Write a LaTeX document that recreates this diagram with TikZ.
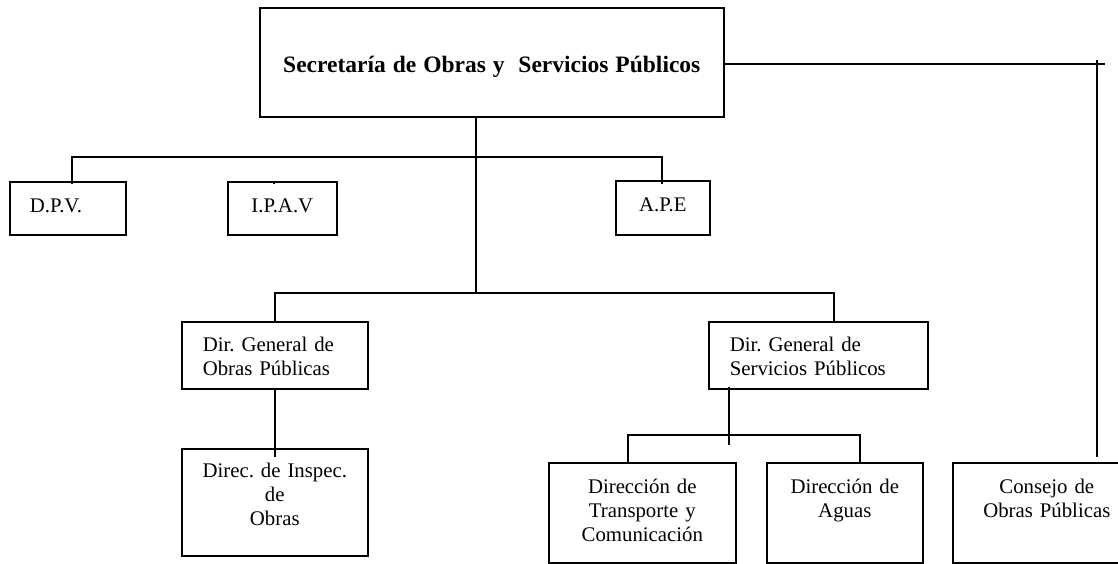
\documentclass[tikz,border=0pt]{standalone}
\usepackage{fontspec}
\setmainfont{Liberation Serif}
\usetikzlibrary{calc}
\frenchspacing
\begin{document}
\begin{tikzpicture}[x=1pt,y=-1pt,
  bx/.style={draw, line width=1.6pt, inner sep=0pt, anchor=north west,
    font=\frenchspacing\fontsize{20.8}{24}\selectfont},
  ln/.style={line width=1.6pt}]
\useasboundingbox (0,0) rectangle (1118,563);
\clip (0,0) rectangle (1118,563);

% boxes
\node[bx, text width=464pt, align=center, text height=65pt, text depth=44pt]
  (main) at (259,7) {\bfseries\fontsize{23.5}{28}\selectfont Secretaría de Obras y\ \ Servicios Públicos};
\node[bx, inner xsep=20pt, text width=76pt, align=left, text height=31pt, text depth=22pt]
  (dpv) at (9,181) {D.P.V.};
\node[bx, text width=109pt, align=center, text height=31pt, text depth=22pt]
  (ipav) at (227,181) {I.P.A.V};
\node[bx, text width=94pt, align=center, text height=31pt, text depth=23pt]
  (ape) at (615,180) {A.P.E};
\node[bx, inner xsep=21pt, text width=144pt, align=left, text height=30pt, text depth=37pt]
  (dgo) at (181,321) {Dir. General de\\Obras Públicas};
\node[bx, inner xsep=21pt, text width=177pt, align=left, text height=30pt, text depth=37pt]
  (dgs) at (708,321) {Dir. General de\\Servicios Públicos};
\node[bx, text width=186pt, align=center, text height=29pt, text depth=78pt]
  (dir) at (181,448) {Direc. de Inspec.\\de\\Obras};
\node[bx, text width=187pt, align=center, text height=31pt, text depth=69pt]
  (tra) at (548,462) {Dirección de\\Transporte y\\Comunicación};
\node[bx, text width=156pt, align=center, text height=31pt, text depth=69pt]
  (agu) at (766,462) {Dirección de\\Aguas};
\node[bx, text width=188pt, align=center, text height=31pt, text depth=69pt]
  (cons) at (952,462) {Consejo de\\Obras Públicas};

% junction coordinates
\coordinate (j1) at (476,157);
\coordinate (j2) at (476,293);
\coordinate (j3) at (729,435);
\coordinate (r0) at (1097,60);
\coordinate (r1) at (1105,64);

% main trunk
\draw[ln] (main.south -| j1) -- (j2);
% upper bus
\draw[ln] ($(dpv.north west)+(63,3)$) |- (j1) -| ($(ape.north west)+(47,4)$);
\draw[ln] ($(ipav.north)+(-8.5,3)$) -- ($(ipav.north)+(-8.5,0)$ |- j1);
% lower bus
\draw[ln] (dgo.north) |- (j2) -| ($(dgs.north)+(15.5,0)$);
\draw[ln] (dgo.south) -- ($(dir.north)+(0,9)$);
% services children
\draw[ln] ($(dgs.south west)+(21,-3)$) -- ($(dgs.south west)+(21,55)$);
\draw[ln] ($(tra.north)+(-14.5,0)$) |- (j3) -| ($(agu.north)+(15,0)$);
% right branch
\draw[ln] (main.east |- r1) -- (r1);
\draw[ln] (r0) -- ($(cons.north -| r0)+(0,-5)$);
\end{tikzpicture}
\end{document}
